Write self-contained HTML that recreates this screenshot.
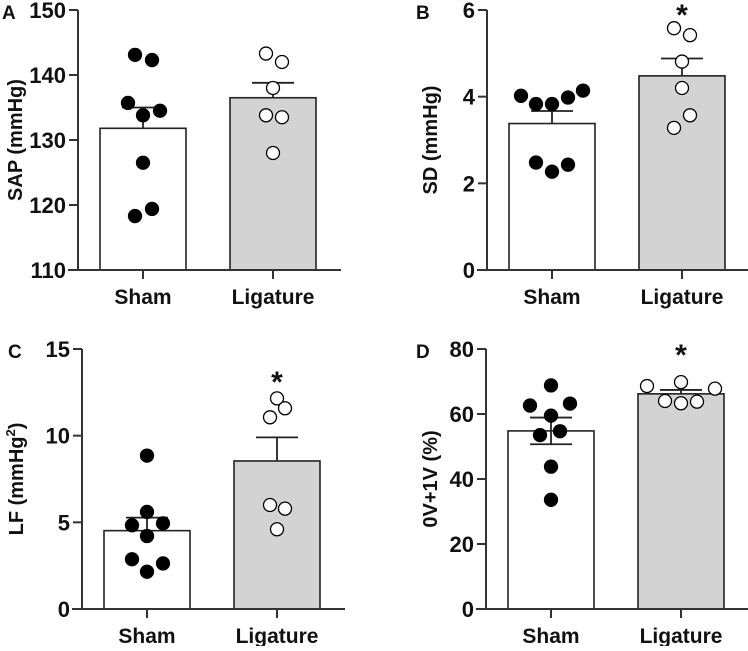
<!DOCTYPE html>
<html><head><meta charset="utf-8"><style>
html,body{margin:0;padding:0;background:#fff;}
svg text{font-family:"Liberation Sans",Arial,sans-serif;font-weight:bold;fill:#111;}
</style></head><body>
<svg id="fig" width="748" height="646" viewBox="0 0 748 646" xmlns="http://www.w3.org/2000/svg"></svg>
<script>
const categories = ["Sham", "Ligature"];
// Panel A: SAP
const aMeans = [131.8, 136.5];
const aSem = [3.2, 2.3];
const aSham = [143.1, 142.3, 135.7, 134.5, 133.8, 126.5, 119.4, 118.3];
const aLig = [143.3, 142.0, 138.0, 133.8, 133.5, 128.0];
const aTicks = [110, 120, 130, 140, 150];
// Panel B: SD
const bMeans = [3.38, 4.48];
const bSem = [0.29, 0.40];
const bSham = [4.02, 3.83, 3.83, 3.98, 4.14, 2.48, 2.27, 2.43];
const bLig = [5.58, 5.42, 4.81, 4.20, 3.57, 3.28];
const bTicks = [0, 2, 4, 6];
// Panel C: LF
const cMeans = [4.52, 8.54];
const cSem = [0.75, 1.36];
const cSham = [8.85, 5.6, 4.83, 4.94, 4.21, 2.87, 2.63, 2.15];
const cLig = [12.15, 11.58, 11.06, 6.0, 5.79, 4.6];
const cTicks = [0, 5, 10, 15];
// Panel D: 0V+1V
const dMeans = [54.8, 66.2];
const dSem = [4.1, 1.2];
const dSham = [68.8, 62.6, 63.2, 59.5, 53.5, 54.7, 43.8, 33.6];
const dLig = [68.6, 69.8, 67.8, 64.0, 63.3, 63.8];
const dTicks = [0, 20, 40, 60, 80];

const NS = "http://www.w3.org/2000/svg";
const svg = document.getElementById("fig");
function mk(tag, attrs, parent) {
  const e = document.createElementNS(NS, tag);
  for (const k in attrs) e.setAttribute(k, attrs[k]);
  (parent || svg).appendChild(e);
  return e;
}
const shamOff = [-8, 9, -15, 17, 0, 0, 9, -8];
const ligOff = [-7, 9, 0, -7, 9, 0];
const dShamOff = [0, -21, 19, 0, -11, 9, 0, 0];
const dLigOff = [-34, 0, 34, -16, 0, 16];

function panel(p) {
  const g = mk("g", {});
  
  
  const y = v => p.y0 - (v - p.vmin) / (p.vmax - p.vmin) * (p.y0 - p.y1);
  const cx = [p.ax + 65, p.ax + 195];
  [0, 1].forEach(i => {
    const r = mk("rect", {x: cx[i] - 43, y: y(p.means[i]), width: 86, height: p.y0 - y(p.means[i]),
      fill: i ? "#d3d3d3" : "#fff", stroke: "#222", "stroke-width": 1.6}, g);
    
    
    const lo = p.both && i === 0 ? p.means[i] - p.sem[i] : p.means[i];
    const el = mk("path", {d: `M${cx[i]},${y(lo)}V${y(p.means[i] + p.sem[i])}M${cx[i]-21},${y(p.means[i] + p.sem[i])}H${cx[i]+21}` +
      (p.both && i === 0 ? `M${cx[i]-21},${y(lo)}H${cx[i]+21}` : ""), stroke: "#222", "stroke-width": 1.8, fill: "none"}, g);
    
    
  });
  const ax = mk("path", {d: `M${p.ax},${p.y1}V${p.y0}M${p.ax - 10},${p.y0}H${p.ax + 263}` +
    cx.map(c => `M${c},${p.y0}V${p.y0 + 9}`).join(""), stroke: "#333", "stroke-width": 2, fill: "none"}, g);
  
  
  p.ticks.forEach(t => {
    mk("path", {d: `M${p.ax - 9},${y(t)}H${p.ax}`, stroke: "#333", "stroke-width": 2}, g);
    const tl = mk("text", {x: p.ax - 12, y: y(t) + 8, "text-anchor": "end", "font-size": 22}, g);
    tl.textContent = t;
    
    
  });
  categories.forEach((c, i) => {
    const t = mk("text", {x: cx[i], y: p.y0 + 34, "text-anchor": "middle", "font-size": 21}, g);
    t.textContent = c;
    
    
  });
  [[p.sham, p.shamOff, "#000"], [p.lig, p.ligOff, "#fff"]].forEach((s, i) => {
    s[0].forEach((v, j) => {
      const c = mk("circle", {cx: cx[i] + s[1][j], cy: y(v), r: 6.5, fill: s[2], stroke: "#000", "stroke-width": 1.3}, g);
      
      
    });
  });
  const tt = mk("text", {transform: `translate(${p.tx},${(p.y0 + p.y1) / 2}) rotate(-90)`, "text-anchor": "middle", "font-size": 20}, g);
  tt.innerHTML = p.title;
  
  
  const lt = mk("text", {x: p.lx, y: p.y1 + 9, "font-size": 19}, g);
  lt.textContent = p.letter;
  
  
  if (p.star) {
    const st = mk("text", {x: cx[1], y: p.star, "text-anchor": "middle", "font-size": 30}, g);
    st.textContent = "*";
    
    
  }
}
panel({name: "panel-a-sap", ax: 78, y0: 270, y1: 10, vmin: 110, vmax: 150, means: aMeans, sem: aSem, sham: aSham, lig: aLig,
  ticks: aTicks, shamOff, ligOff, title: "SAP (mmHg)", tx: 22, letter: "A", lx: 2});
panel({name: "panel-b-sd", ax: 487, y0: 270, y1: 10, vmin: 0, vmax: 6, means: bMeans, sem: bSem, sham: bSham, lig: bLig,
  ticks: bTicks, shamOff: [-31, -16, 0, 16, 31, -16, 0, 16], ligOff: [-8, 8, 0, 0, 8, -8], title: "SD (mmHg)", tx: 437, letter: "B", lx: 416, star: 25});
panel({name: "panel-c-lf", ax: 82, y0: 609, y1: 349, vmin: 0, vmax: 15, means: cMeans, sem: cSem, sham: cSham, lig: cLig,
  ticks: cTicks, shamOff: [0, 0, -15, 16, 0, -15, 16, 0], ligOff: [0, 8, -7, -7, 8, 0], title: 'LF (mmHg<tspan font-size="13" dy="-8">2</tspan><tspan dy="8">)</tspan>', tx: 23, letter: "C", lx: 8, star: 392});
panel({name: "panel-d-0v1v", ax: 486, y0: 609, y1: 349, vmin: 0, vmax: 80, means: dMeans, sem: dSem, sham: dSham, lig: dLig, both: true,
  ticks: dTicks, shamOff: dShamOff, ligOff: dLigOff, title: "0V+1V (%)", tx: 437, letter: "D", lx: 416, star: 365});
</script>
</body></html>
